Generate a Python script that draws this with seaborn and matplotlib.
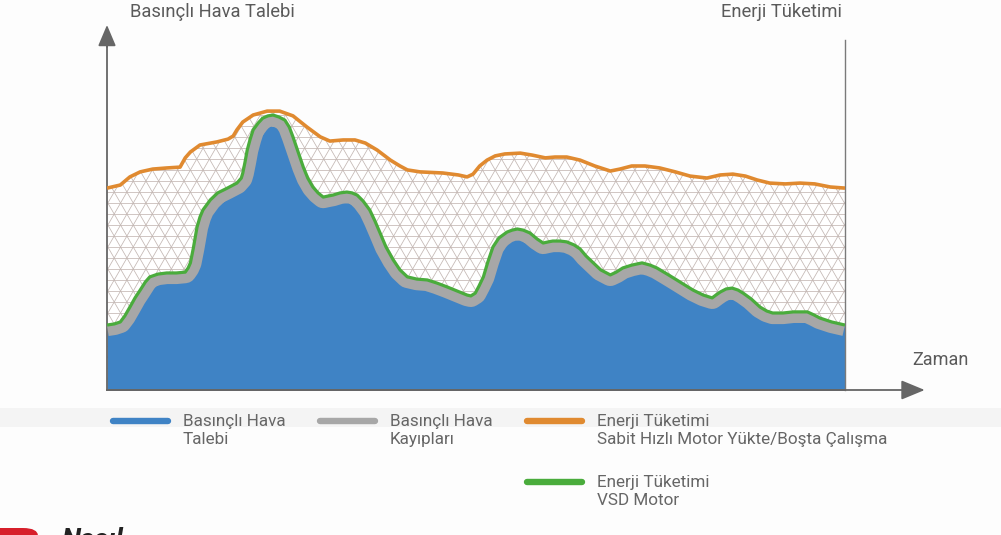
import numpy as np
import matplotlib
matplotlib.use("Agg")
import matplotlib.pyplot as plt
import seaborn as sns
from matplotlib.lines import Line2D
from matplotlib.collections import LineCollection
from matplotlib.patches import Rectangle, FancyBboxPatch, ArrowStyle

# ── data (time 0-100, demand/energy scaled so peak ≈ 100) ──
# Enerji Tüketimi - Sabit Hızlı Motor (orange)
t_sabit = [0, 1.8, 3.1, 4.5, 6.2, 8.1, 9.9, 10.6, 11.3, 12.6, 14.9, 16.4, 17.1, 17.6,
           18.4, 19.8, 21.7, 23.4, 25.2, 27.1, 28.9, 30.2, 32.0, 33.6, 35.0, 36.6,
           38.4, 39.7, 40.7, 42.4, 45.5, 47.6, 48.8, 49.6, 50.5, 51.5, 52.6, 53.9,
           56.0, 57.6, 59.4, 60.7, 62.3, 64.1, 66.1, 68.2, 69.5, 71.1, 72.9, 74.9,
           77.0, 79.0, 81.3, 83.1, 84.8, 86.5, 88.1, 89.8, 91.9, 93.9, 95.9, 98.0, 100]
sabit_hiz = [72.1, 73.2, 76.1, 77.9, 78.9, 79.3, 79.6, 82.9, 85.0, 87.5, 88.6, 89.6, 90.7,
             92.9, 95.7, 98.2, 99.6, 99.6, 97.9, 93.9, 90.4, 88.9, 89.3, 89.3, 88.2, 85.7,
             82.1, 80.0, 78.6, 77.9, 77.5, 76.8, 76.1, 77.1, 80.0, 82.1, 83.6, 84.3,
             84.6, 83.9, 82.9, 83.2, 83.2, 82.1, 80.0, 78.2, 78.9, 80.0, 80.0, 79.3,
             77.9, 76.4, 75.7, 76.8, 77.1, 76.4, 75.0, 73.9, 73.6, 73.9, 73.6, 72.5, 72.1]

# Enerji Tüketimi - VSD Motor (green) = Basınçlı Hava Talebi + Kayıplar
t_vsd = [0, 1.0, 1.8, 2.4, 3.1, 3.8, 4.5, 5.2, 5.8, 6.9, 8.1, 9.4, 10.6, 11.0, 11.3,
         11.7, 12.2, 12.6, 13.0, 14.0, 15.0, 16.3, 17.6, 18.2, 18.4, 18.7, 19.0, 19.4,
         19.8, 20.5, 21.1, 21.8, 22.5, 23.3, 24.1, 24.7, 25.2, 25.9, 26.6, 27.2, 27.9,
         28.6, 29.3, 30.0, 30.6, 31.6, 32.5, 33.2, 33.9, 34.7, 35.6, 36.3, 37.0, 37.8,
         38.8, 39.7, 40.7, 42.0, 43.4, 44.7, 46.1, 47.4, 48.8, 49.3, 49.9, 50.4, 51.0,
         51.6, 52.3, 53.1, 54.2, 54.9, 55.6, 56.4, 57.3, 58.3, 59.1, 59.8, 60.4, 61.4,
         62.3, 63.3, 64.1, 64.9, 65.9, 66.9, 68.2, 69.0, 69.9, 71.1, 72.5, 73.6, 74.5,
         75.9, 77.2, 78.3, 79.4, 80.8, 82.0, 82.5, 83.1, 83.9, 84.7, 85.5, 86.2, 87.3,
         88.5, 89.4, 90.2, 91.6, 93.0, 93.9, 94.9, 95.8, 96.6, 98.2, 100]
vsd = [23.2, 23.6, 24.3, 26.4, 29.6, 32.9, 35.7, 38.6, 40.4, 41.4, 41.8, 41.8, 42.1, 43.6,
       45.4, 50.7, 58.2, 61.8, 64.3, 67.9, 70.4, 72.1, 73.9, 75.7, 77.5, 81.4, 85.7, 89.6,
       92.9, 95.4, 97.1, 97.9, 98.2, 97.5, 96.4, 93.9, 90.4, 85.0, 79.6, 75.7, 72.5,
       70.4, 68.9, 69.3, 69.6, 70.4, 70.7, 70.4, 69.6, 67.5, 64.3, 60.4, 56.1, 51.1,
       46.4, 42.9, 40.4, 39.6, 39.3, 38.2, 36.8, 35.4, 33.9, 33.6, 34.6, 37.1, 40.4,
       45.7, 51.1, 54.3, 56.4, 57.1, 57.5, 57.1, 56.1, 53.9, 52.5, 52.9, 53.2, 53.2,
       52.9, 51.8, 50.4, 47.9, 45.4, 42.9, 41.1, 42.1, 43.6, 44.6, 45.4, 44.6, 43.6,
       41.4, 39.3, 37.5, 35.7, 33.9, 32.9, 33.9, 35.0, 36.1, 36.4, 35.7, 34.6, 32.5,
       29.6, 28.2, 27.5, 27.5, 27.9, 27.9, 27.9, 26.8, 25.7, 24.3, 23.2]

legend_labels = ["Basınçlı Hava\nTalebi", "Basınçlı Hava\nKayıpları",
                 "Enerji Tüketimi\nSabit Hızlı Motor Yükte/Boşta Çalışma",
                 "Enerji Tüketimi\nVSD Motor"]

BLUE = "#3f83c5"
GRAY = "#a7a7a7"
GREEN = "#4aac3c"
ORANGE = "#e08a30"
AXIS = "#666666"
TEXT = "#5a5a5a"
HATCH = "#c3b7b3"

sns.set_theme(style="white")

W, H = 1001, 535
fig = plt.figure(figsize=(W / 100, H / 100), dpi=100)
fig.patch.set_facecolor("#fdfdfd")

# light band under the chart
fig.add_artist(Rectangle((0, (H - 427) / H), 1, 19 / H, transform=fig.transFigure,
                         facecolor="#f4f4f4", edgecolor="none", zorder=0))

ax = fig.add_axes([107 / W, (H - 390) / H, 738 / W, 350 / H])
ax.set_facecolor("none")
ax.set_xlim(0, 100)
ax.set_ylim(0, 125)

# area under the fixed speed energy curve, with a triangular grid texture
area = ax.fill_between(t_sabit, 0, sabit_hiz, facecolor="white", linewidth=0, zorder=1)
px_x = 738 / 100   # pixels per x unit
px_y = 350 / 125   # pixels per y unit
step_h = 11 / px_y                      # horizontal lines every ~11 px
step_d = 12.7 / px_x                    # 60° lines every ~12.7 px
slope = np.tan(np.radians(60)) * px_x / px_y
segs = [[(-5, yy), (105, yy)] for yy in np.arange(0, 110, step_h)]
for x0 in np.arange(-30, 130, step_d):
    segs.append([(x0, 0), (x0 + 110 / slope, 110)])
    segs.append([(x0, 0), (x0 - 110 / slope, 110)])
grid = LineCollection(segs, colors=HATCH, linewidths=0.55, zorder=1.5)
ax.add_collection(grid)
grid.set_clip_path(area.get_paths()[0], ax.transData)

# demand (blue) + losses (gray band just inside the VSD curve)
poly = ax.fill_between(t_vsd, 0, vsd, color=BLUE, linewidth=0, zorder=2)
sns.lineplot(x=t_vsd, y=vsd, ax=ax, color=GRAY, linewidth=16, sort=False, zorder=3)
band = ax.lines[-1]
band.set_clip_path(poly.get_paths()[0], ax.transData)

sns.lineplot(x=t_vsd, y=vsd, ax=ax, color=GREEN, linewidth=2.3, sort=False, zorder=4)
sns.lineplot(x=t_sabit, y=sabit_hiz, ax=ax, color=ORANGE, linewidth=2.6, sort=False, zorder=5)
for ln in ax.lines:
    ln.set_solid_joinstyle("round")
    ln.set_solid_capstyle("butt")

# axes styling
ax.set_xticks([])
ax.set_yticks([])
ax.spines["top"].set_visible(False)
for side in ["left", "bottom"]:
    ax.spines[side].set_color(AXIS)
    ax.spines[side].set_linewidth(1.3)
ax.spines["right"].set_color("#7a7a7a")
ax.spines["right"].set_linewidth(1.0)

arrow_y = ArrowStyle("-|>", head_length=1.3, head_width=0.55)
ax.annotate("", xy=(0, 1.043), xytext=(0, 0.98), xycoords="axes fraction",
            arrowprops=dict(arrowstyle=arrow_y, color=AXIS, lw=1.3, mutation_scale=10,
                            shrinkA=0, shrinkB=0), annotation_clip=False)
arrow_x = ArrowStyle("-|>", head_length=1.45, head_width=0.6)
ax.annotate("", xy=(1.108, 0), xytext=(0, 0), xycoords="axes fraction",
            arrowprops=dict(arrowstyle=arrow_x, color=AXIS, lw=1.3, mutation_scale=10,
                            shrinkA=0, shrinkB=0), annotation_clip=False)

# axis captions
fig.text(130 / W, 1 - 12 / H, "Basınçlı Hava Talebi", ha="left", va="center",
         fontsize=13.2, color=TEXT, family="Roboto")
fig.text(842 / W, 1 - 12 / H, "Enerji Tüketimi", ha="right", va="center",
         fontsize=13.2, color=TEXT, family="Roboto")
fig.text(912 / W, 1 - 360 / H, "Zaman", ha="left", va="center",
         fontsize=13, color=TEXT, family="Roboto")

# legend (built by hand to match the 3 column layout)
leg_colors = [BLUE, GRAY, ORANGE, GREEN]
leg_x = [113, 320, 527, 527]
leg_y = [421, 421, 421, 482]
for lab, col, lx, ly in zip(legend_labels, leg_colors, leg_x, leg_y):
    fig.add_artist(Line2D([lx / W, (lx + 55) / W], [1 - ly / H, 1 - ly / H],
                          transform=fig.transFigure, color=col, linewidth=4.6,
                          solid_capstyle="round"))
    fig.text((lx + 70) / W, 1 - (ly - 7) / H, lab, ha="left", va="top",
             fontsize=12.3, color="#666666", linespacing=1.22, family="Roboto")

# cut-off header at the bottom edge, as in the reference
fig.add_artist(FancyBboxPatch((-20 / W, 1 - 560 / H), 58 / W, 32 / H,
                              boxstyle="round,pad=0,rounding_size=0.015",
                              transform=fig.transFigure, facecolor="#d71f2b",
                              edgecolor="none"))
fig.text(62 / W, 1 - 527 / H, "Nasıl", ha="left", va="top", fontsize=20,
         fontweight="bold", fontstyle="italic", color="#222222", family="Roboto")

fig.savefig("out.png", dpi=100, facecolor=fig.get_facecolor())
